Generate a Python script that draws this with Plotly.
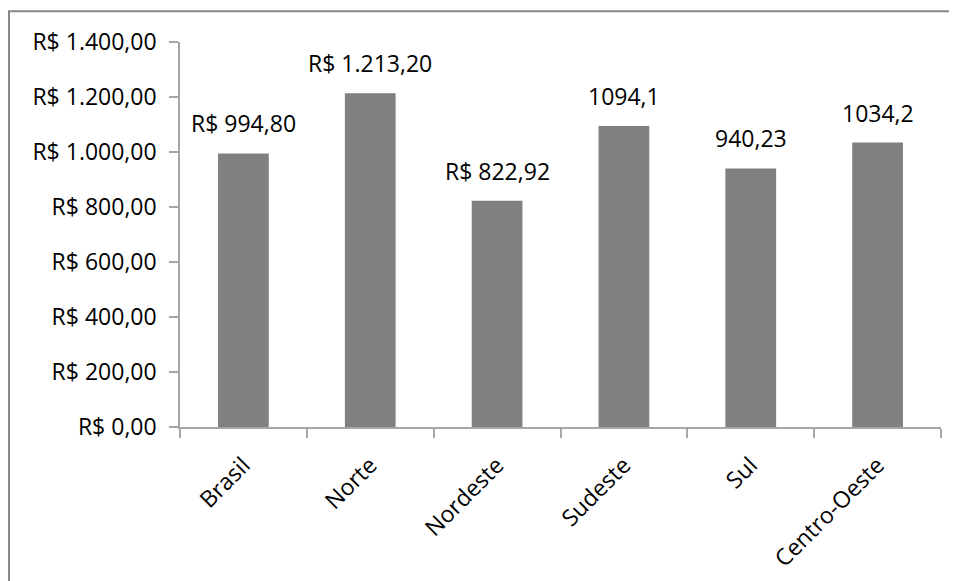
import plotly.graph_objects as go

categories = ["Brasil", "Norte", "Nordeste", "Sudeste", "Sul", "Centro-Oeste"]
values = [994.80, 1213.20, 822.92, 1094.1, 940.23, 1034.2]
value_labels = ["R$ 994,80", "R$ 1.213,20", "R$ 822,92", "1094,1", "940,23", "1034,2"]
y_ticks = [0, 200, 400, 600, 800, 1000, 1200, 1400]
y_tick_labels = ["R$ 0,00", "R$ 200,00", "R$ 400,00", "R$ 600,00", "R$ 800,00",
                 "R$ 1.000,00", "R$ 1.200,00", "R$ 1.400,00"]

# page body has 8px margin -> figure is 949x573 placed at (8, 8)
W, H = 949, 573
L, R, T, B = 172, 16, 34, 154
pw, ph = W - L - R, H - T - B

font = dict(family="Open Sans", size=23, color="#000000")
axis_col = "#a6a6a6"

fig = go.Figure(go.Bar(
    x=categories, y=values, width=0.4,
    marker=dict(color="#808080", line=dict(width=0)),
    hoverinfo="x+y",
))

for c, v, t in zip(categories, values, value_labels):
    fig.add_annotation(x=c, y=v, text=t, showarrow=False, xanchor="center",
                       yanchor="bottom", yshift=12, font=font)

fig.update_layout(
    width=W, height=H,
    margin=dict(l=L, r=R, t=T, b=B, autoexpand=False),
    paper_bgcolor="white", plot_bgcolor="white",
    font=font, showlegend=False,
    xaxis=dict(
        tickangle=-45, showline=True, linecolor=axis_col, linewidth=1.5,
        ticks="outside", ticklen=9, tickcolor=axis_col, tickwidth=1.5,
        tickson="boundaries", showgrid=False, tickfont=font, ticklabelstandoff=14,
    ),
    yaxis=dict(
        range=[0, 1400], tickvals=y_ticks, ticktext=y_tick_labels,
        showline=True, linecolor=axis_col, linewidth=1.5,
        ticks="outside", ticklen=9, tickcolor=axis_col, tickwidth=1.5,
        showgrid=False, zeroline=False, tickfont=font, ticklabelstandoff=8,
    ),
    shapes=[dict(
        type="rect", xref="paper", yref="paper",
        x0=(1 - L) / pw, x1=2.0, y0=-2.0, y1=(H - B - 3.3) / ph,
        line=dict(color="#888888", width=2), fillcolor="rgba(0,0,0,0)", layer="below",
    )],
)

fig.write_html("out.html")
